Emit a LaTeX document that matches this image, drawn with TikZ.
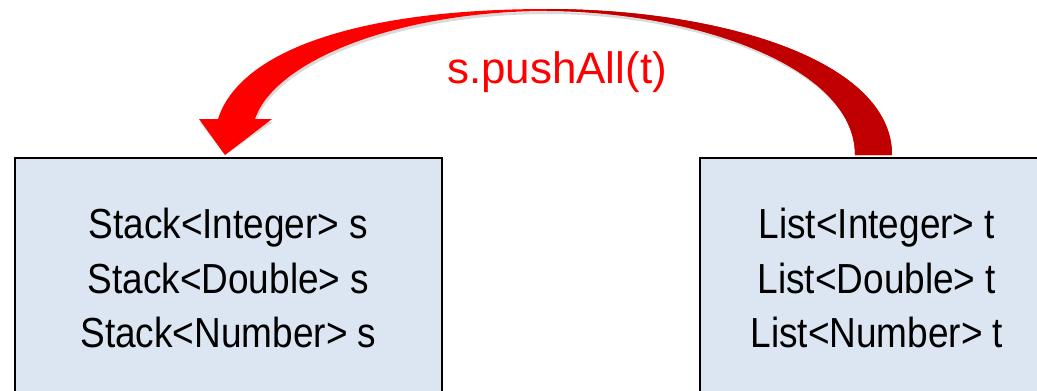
\documentclass[tikz,border=0pt]{standalone}
\usepackage{fontspec}
\setmainfont{Liberation Sans}
\newfontfamily\boxfont{Liberation Sans}[FakeStretch=0.88]
\usetikzlibrary{calc}
\definecolor{boxblue}{HTML}{DCE6F2}
\definecolor{pushred}{HTML}{FF0000}
\definecolor{pushdark}{HTML}{C00000}
\tikzset{
	typebox/.style={draw=black, line width=0.45pt, fill=boxblue, anchor=north west,
		minimum height=2.41cm, align=center,
		font={\boxfont\fontsize{11.95}{15.5}\selectfont}},
}
\newcommand\pushpath{(tailout) .. controls (892,60) and (720,9) .. (547,9)
	.. controls (360,9) and (240,50) .. (218,119) -- (199,119) -- (tip)
	-- (272,119) -- (255,119) .. controls (275,60) and (400,11) .. (547,11)
	.. controls (690,11) and (855,65) .. (tailin) -- cycle}
\begin{document}
\begin{tikzpicture}[x=0.01cm, y=-0.01cm]
	\useasboundingbox (0,0) rectangle (1037,390);
	\clip (0,0) rectangle (1037,390);
	\node[typebox, minimum width=4.27cm] (stackbox) at (14,157)
		{Stack<Integer> s\\Stack<Double> s\\Stack<Number> s};
	\node[typebox, minimum width=3.54cm] (listbox) at (699,157)
		{List<Integer> t\\List<Double> t\\List<Number> t};
	\coordinate (tip) at ($(stackbox.north west)+(211,-2)$);
	\coordinate (tailin) at ($(listbox.north west)+(156,-2)$);
	\coordinate (tailout) at ($(listbox.north west)+(193,-2)$);
	\fill[black, opacity=0.15, shift={(1,3)}] \pushpath;
	\fill[pushred] \pushpath;
	\begin{scope}
		\clip (547,0) rectangle (1037,160);
		\fill[pushdark] \pushpath;
	\end{scope}
	\node[text=pushred, anchor=base, font=\fontsize{12.5}{15}\selectfont] (pushlbl) at (557,83) {s.pushAll(t)};
\end{tikzpicture}
\end{document}
